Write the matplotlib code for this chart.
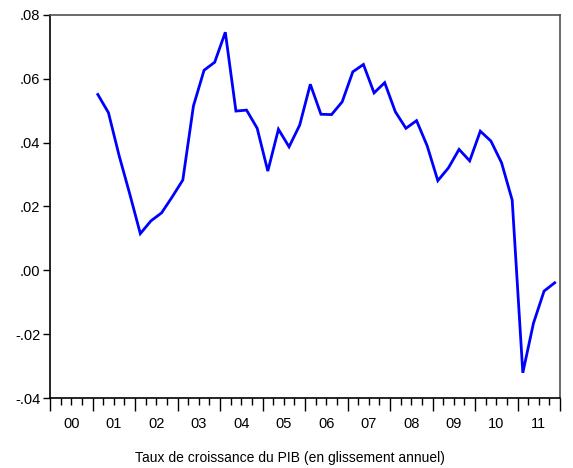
import numpy as np
import matplotlib
matplotlib.use("Agg")
import matplotlib.pyplot as plt
from matplotlib.ticker import FixedLocator, NullFormatter

plt.rcParams['font.family'] = ['Liberation Sans Narrow', 'Liberation Sans', 'DejaVu Sans']

# croissance du PIB, glissement annuel, trimestriel 2001T1 - 2011T4
debut = 2001
pib = [0.0551, 0.0494, 0.0360, 0.0240,
       0.0115, 0.0155, 0.0180, 0.0230,
       0.0283, 0.0515, 0.0627, 0.0652,
       0.0746, 0.0499, 0.0502, 0.0445,
       0.0311, 0.0442, 0.0387, 0.0455,
       0.0583, 0.0489, 0.0488, 0.0528,
       0.0622, 0.0645, 0.0556, 0.0588,
       0.0497, 0.0445, 0.0469, 0.0390,
       0.0281, 0.0321, 0.0379, 0.0343,
       0.0436, 0.0405, 0.0337, 0.0220,
       -0.0321, -0.0166, -0.0065, -0.0039]
annees = list(range(2000, 2012))
yticks = [-0.04, -0.02, 0.00, 0.02, 0.04, 0.06, 0.08]
ylabels = ['-.04', '-.02', '.00', '.02', '.04', '.06', '.08']

x = debut + (np.arange(len(pib)) + 0.5) / 4.0

fig = plt.figure(figsize=(5.73, 4.68), dpi=100)
ax = fig.add_axes([50/573, 70/468, 510/573, 383/468])
ax.plot(x, pib, color='#0000ff', lw=2.0, solid_joinstyle='miter')

ax.set_xlim(2000, 2012)
ax.set_ylim(-0.04, 0.08)

ax.xaxis.set_major_locator(FixedLocator(annees + [2012]))
ax.xaxis.set_major_formatter(NullFormatter())
ax.xaxis.set_minor_locator(FixedLocator([a + q/4 for a in annees for q in (1, 2, 3)]))
for a in annees:
    ax.text(a + 0.5, -0.0458, '%02d' % (a % 100), ha='center', va='top', fontsize=10.5)

ax.set_yticks(yticks)
ax.set_yticklabels(ylabels, fontsize=10.5)

ax.tick_params(axis='x', which='major', direction='out', length=9, width=1, color='black')
ax.tick_params(axis='x', which='minor', direction='out', length=5, width=1, color='black')
ax.tick_params(axis='y', direction='out', length=5, width=1, pad=2)

for s in ['left', 'bottom']:
    ax.spines[s].set_linewidth(1.2)
    ax.spines[s].set_color('black')
for s in ['top', 'right']:
    ax.spines[s].set_linewidth(1.2)
    ax.spines[s].set_color('#505050')

fig.text(290/573, 1 - 458/468, 'Taux de croissance du PIB (en glissement annuel)',
         ha='center', va='center', fontsize=10)

fig.savefig('out.png', dpi=100)
